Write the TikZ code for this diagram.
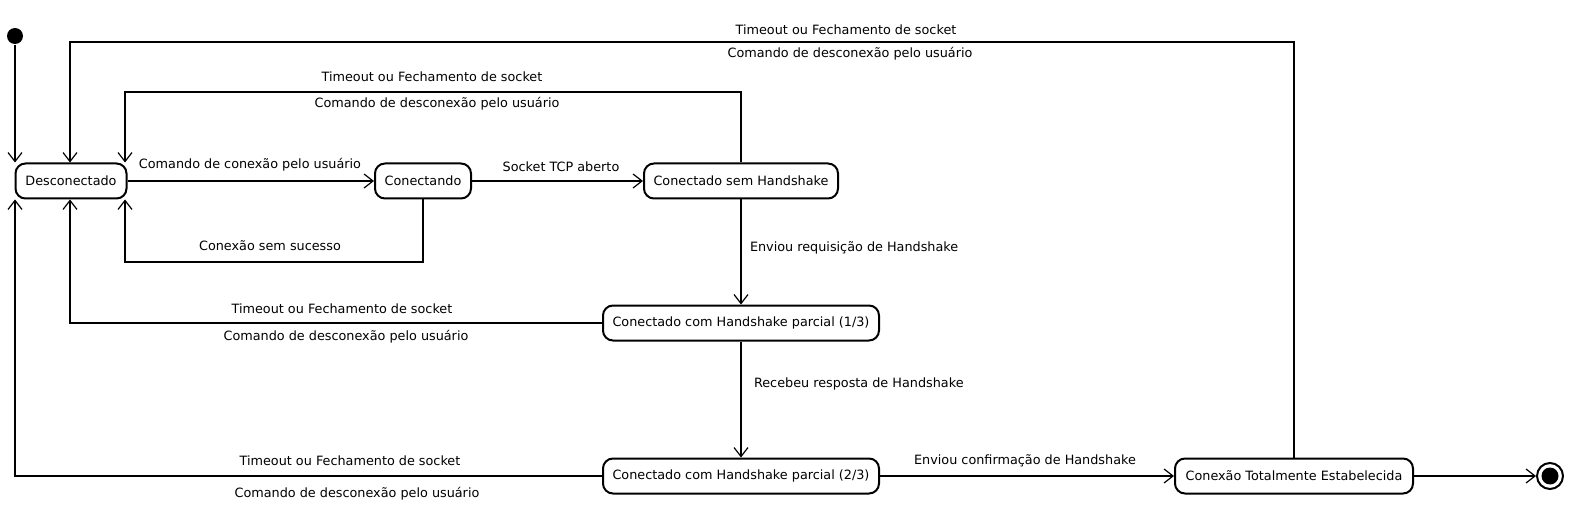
\documentclass[tikz,border=0pt]{standalone}
\usepackage{fontspec}
\setmainfont{DejaVu Sans}
\usetikzlibrary{arrows.meta}
\begin{document}
\begin{tikzpicture}
[x=1pt,y=-1pt,line width=2pt,%
  seta/.style={-{Straight Barb[length=9pt,width=14pt,line width=1.2pt]}},%
  estado/.style={draw,rounded corners=10pt,minimum height=35pt,inner sep=0pt},%
  rotulo/.style={inner sep=0pt}]
\fontsize{12.8}{15}\selectfont
\useasboundingbox (0,0) rectangle (1569,505);
% estados
\node[fill,circle,minimum size=16pt,inner sep=0pt] (ini) at (15,36) {};
\node[estado,minimum width=111pt] (desc) at (71,181) {Desconectado};
\node[estado,minimum width=96pt] (conec) at (423,181) {Conectando};
\node[estado,minimum width=194pt] (sem) at (741,181) {Conectado sem Handshake};
\node[estado,minimum width=276pt] (parc1) at (741,323) {Conectado com Handshake parcial (1/3)};
\node[estado,minimum width=276pt] (parc2) at (741,476) {Conectado com Handshake parcial (2/3)};
\node[estado,minimum width=238pt] (total) at (1294,476) {Conexão Totalmente Estabelecida};
\node[draw,circle,minimum size=26pt,inner sep=0pt] (fim) at (1550,476) {};
\node[fill,circle,minimum size=17pt,inner sep=0pt] (fimint) at (fim) {};
% pontos de dobra
\coordinate (xa) at (15,0);
\coordinate (xb) at (70,42);
\coordinate (xc) at (125,92);
\coordinate (xd) at (125,262);
% transicoes
\draw[seta] (ini) -- (xa |- desc.north);
\draw[seta] (total.north) |- (xb) -- (xb |- desc.north);
\draw[seta] (sem.north) |- (xc) -- (xc |- desc.north);
\draw[seta] (desc) -- (conec);
\draw[seta] (conec) -- (sem);
\draw[seta] (conec.south) |- (xd) -- (xd |- desc.south);
\draw[seta] (sem) -- (parc1);
\draw[seta] (parc1.west) -| (xb |- desc.south);
\draw[seta] (parc1) -- (parc2);
\draw[seta] (parc2.west) -| (xa |- desc.south);
\draw[seta] (parc2) -- (total);
\draw[seta] (total) -- (fim);
% rotulos
\node[rotulo] (r1) at (846,30) {Timeout ou Fechamento de socket};
\node[rotulo] (r2) at (850,54) {Comando de desconexão pelo usuário};
\node[rotulo] (r3) at (432,77) {Timeout ou Fechamento de socket};
\node[rotulo] (r4) at (437,104) {Comando de desconexão pelo usuário};
\node[rotulo] (r5) at (250,165) {Comando de conexão pelo usuário};
\node[rotulo] (r6) at (561,167) {Socket TCP aberto};
\node[rotulo] (r7) at (270,246) {Conexão sem sucesso};
\node[rotulo,anchor=west] (r8) at (749,248) {Enviou requisição de Handshake};
\node[rotulo] (r9) at (342,309) {Timeout ou Fechamento de socket};
\node[rotulo] (r10) at (346,337) {Comando de desconexão pelo usuário};
\node[rotulo,anchor=west] (r11) at (753,384) {Recebeu resposta de Handshake};
\node[rotulo] (r12) at (350,461) {Timeout ou Fechamento de socket};
\node[rotulo] (r13) at (357,494) {Comando de desconexão pelo usuário};
\node[rotulo] (r14) at (1025,461) {Enviou confirmação de Handshake};
\end{tikzpicture}
\end{document}
